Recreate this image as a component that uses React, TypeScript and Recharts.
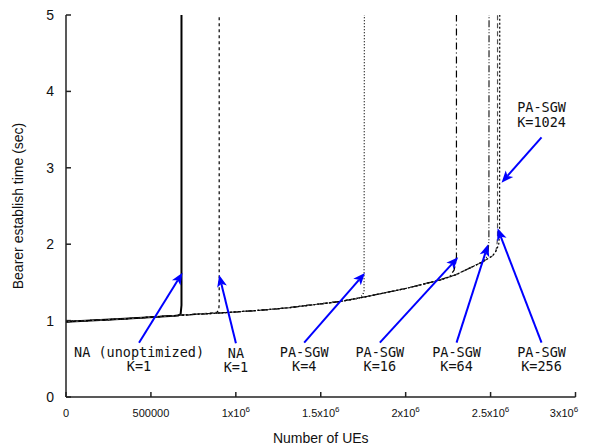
import { Line, LineChart, ReferenceLine, XAxis, YAxis } from "recharts";

type Pair = [number, number];

const xTicks = [0, 500000, 1000000, 1500000, 2000000, 2500000, 3000000];
const yTicks = [0, 1, 2, 3, 4, 5];

// common rise of the establish time before each setup saturates (UEs, sec)
const baseCurve: Pair[] = [
  [0, 0.986],
  [318000, 1.02],
  [671000, 1.07],
  [906000, 1.1],
  [1142000, 1.135],
  [1318000, 1.17],
  [1613000, 1.25],
  [1760000, 1.31],
  [2000000, 1.42],
  [2200000, 1.53],
  [2295000, 1.6],
  [2454000, 1.77],
  [2513000, 1.85],
];

// knee of each curve, up to the top of the plot
const kneeNaUnopt: Pair[] = [[660000, 1.065], [675000, 1.085], [680000, 1.2], [680000, 5]];
const kneeNaK1: Pair[] = [[860000, 1.1], [890000, 1.11], [900000, 1.14], [902000, 1.25], [902000, 5]];
const kneeK4: Pair[] = [[1720000, 1.29], [1745000, 1.33], [1755000, 1.38], [1757000, 5]];
const kneeK16: Pair[] = [[2260000, 1.58], [2285000, 1.66], [2295000, 1.76], [2299000, 1.84], [2299000, 5]];
const kneeK64: Pair[] = [[2475000, 1.82], [2486000, 1.92], [2490000, 2.04], [2491000, 5]];
const kneeK256: Pair[] = [[2528000, 1.89], [2537000, 1.97], [2541000, 2.1], [2541000, 5]];
const kneeK1024: Pair[] = [[2535000, 1.92], [2548000, 2.0], [2553000, 2.15], [2554000, 5]];

const labelTitles = ["NA (unoptimized)", "NA", "PA-SGW", "PA-SGW", "PA-SGW", "PA-SGW", "PA-SGW"];
const labelKs = ["K=1", "K=1", "K=4", "K=16", "K=64", "K=256", "K=1024"];
const arrowFrom: Pair[] = [
  [430000, 0.711],
  [1000600, 0.703],
  [1402600, 0.711],
  [1848000, 0.711],
  [2299600, 0.711],
  [2800000, 0.711],
  [2800000, 3.399],
];
const arrowTo: Pair[] = [
  [686000, 1.627],
  [902000, 1.597],
  [1760000, 1.623],
  [2309000, 1.829],
  [2485600, 1.999],
  [2541000, 2.208],
  [2564500, 2.805],
];

const series = [
  { key: "naUnopt", knee: kneeNaUnopt, dash: undefined, color: "#000", width: 2 },
  { key: "naK1", knee: kneeNaK1, dash: "3 3", color: "#000", width: 1.2 },
  { key: "k4", knee: kneeK4, dash: "1 2", color: "#000", width: 1.2 },
  { key: "k16", knee: kneeK16, dash: "7 3 1 3", color: "#000", width: 1.2 },
  { key: "k64", knee: kneeK64, dash: "7 2 1 2 1 2", color: "#222", width: 1.2 },
  { key: "k256", knee: kneeK256, dash: "5 3", color: "#555", width: 1.2 },
  { key: "k1024", knee: kneeK1024, dash: "2 2", color: "#000", width: 1.2 },
].map((s) => ({
  ...s,
  data: baseCurve
    .filter(([x]) => x < s.knee[0][0])
    .concat(s.knee)
    .map(([x, y]) => ({ x, y })),
}));

const axisFont = "'Liberation Sans', Arial, sans-serif";
const noteFont = "'DejaVu Sans Mono', monospace";

const XTick = (p: any) => {
  const v = p.payload.value as number;
  const plain = v === 0 || v === 500000;
  return (
    <text x={p.x} y={p.y} textAnchor="middle" fontSize={11} fill="#111" fontFamily={axisFont}>
      {plain ? String(v) : `${v / 1000000}x10`}
      {!plain && (
        <tspan dy={-5} fontSize={8}>
          6
        </tspan>
      )}
    </text>
  );
};

const arrowShape = (title: string, k: string) => (p: any) => {
  const { x1, y1, x2, y2 } = p;
  if ([x1, y1, x2, y2].some((n) => n == null || isNaN(n))) return <g />;
  const len = Math.hypot(x2 - x1, y2 - y1);
  const ux = (x2 - x1) / len;
  const uy = (y2 - y1) / len;
  const headL = 12;
  const headW = 5;
  const bx = x2 - ux * headL;
  const by = y2 - uy * headL;
  const nx = bx + ux * 3;
  const ny = by + uy * 3;
  const below = y1 > y2;
  const t1 = below ? y1 + 14.3 : y1 - 25.3;
  return (
    <g>
      <line x1={x1} y1={y1} x2={nx} y2={ny} stroke="#0000ff" strokeWidth={2} />
      <polygon
        points={`${x2},${y2} ${bx - uy * headW},${by + ux * headW} ${nx},${ny} ${bx + uy * headW},${by - ux * headW}`}
        fill="#0000ff"
      />
      <text textAnchor="middle" fontSize={13.5} fill="#111" fontFamily={noteFont}>
        <tspan x={x1} y={t1}>
          {title}
        </tspan>
        <tspan x={x1} y={t1 + 14.5}>
          {k}
        </tspan>
      </text>
    </g>
  );
};

const App = () => {
  return (
    <div style={{ position: "absolute", left: 0, top: 0, background: "#fff" }}>
      <LineChart width={592} height={447} margin={{ top: 15, right: 16.5, bottom: 0, left: 0 }}>
        <XAxis
          xAxisId="b"
          dataKey="x"
          type="number"
          domain={[0, 3000000]}
          ticks={xTicks}
          height={50}
          tickSize={-5}
          tickMargin={25}
          tick={<XTick />}
          stroke="#222"
          strokeWidth={1.5}
          label={{ value: "Number of UEs", position: "insideBottom", offset: 4, fontSize: 14, fill: "#111", fontFamily: axisFont }}
        />
        <XAxis
          xAxisId="t"
          orientation="top"
          dataKey="x"
          type="number"
          domain={[0, 3000000]}
          ticks={xTicks}
          height={0}
          tickSize={-5}
          tick={false}
          stroke="#222"
          strokeWidth={1.5}
        />
        <YAxis
          yAxisId="l"
          type="number"
          domain={[0, 5]}
          ticks={yTicks}
          width={66}
          tickSize={-5}
          tickMargin={17}
          tick={{ fontSize: 14, fill: "#111", fontFamily: axisFont }}
          stroke="#222"
          strokeWidth={1.5}
          label={{
            value: "Bearer establish time (sec)",
            angle: -90,
            position: "insideLeft",
            offset: 18,
            style: { textAnchor: "middle" },
            fontSize: 14,
            fill: "#111",
            fontFamily: axisFont,
          }}
        />
        <YAxis
          yAxisId="r"
          orientation="right"
          type="number"
          domain={[0, 5]}
          ticks={yTicks}
          width={0}
          tickSize={-5}
          tick={false}
          stroke="#222"
          strokeWidth={1.5}
        />
        {series.map((s) => (
          <Line
            key={s.key}
            xAxisId="b"
            yAxisId="l"
            data={s.data}
            dataKey="y"
            type="linear"
            stroke={s.color}
            strokeWidth={s.width}
            strokeDasharray={s.dash}
            dot={false}
            activeDot={false}
            isAnimationActive={false}
          />
        ))}
        {arrowFrom.map((from, i) => (
          <ReferenceLine
            key={i}
            xAxisId="b"
            yAxisId="l"
            segment={[
              { x: from[0], y: from[1] },
              { x: arrowTo[i][0], y: arrowTo[i][1] },
            ]}
            shape={arrowShape(labelTitles[i], labelKs[i])}
          />
        ))}
      </LineChart>
    </div>
  );
};

export default App;
